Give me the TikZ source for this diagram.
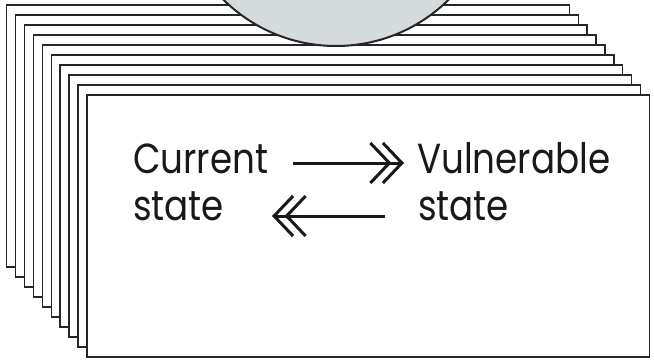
\documentclass[tikz,border=0pt]{standalone}
\usepackage{fontspec}
\setmainfont{Poppins}[FakeStretch=0.85]
\usetikzlibrary{arrows.meta}
\definecolor{discgray}{HTML}{D5DBDC}
\tikzset{
  card/.style={draw=black!85, line width=1.4pt, fill=white},
  disc/.style={draw=black!85, line width=2pt, fill=discgray},
  label/.style={anchor=base west, inner sep=0pt, font=\fontsize{42}{42}\selectfont, text=black!90},
  chev/.tip={Straight Barb[length=19pt, width=40pt, line width=3pt]},
  dblarrow/.style={line width=3pt, draw=black!90, -{chev[sep=-10pt] chev}}
}
\begin{document}
\begin{tikzpicture}[x=1pt, y=-1pt]
\useasboundingbox (0,0) rectangle (654,361);
% stack of ten cards, back to front
\foreach \i in {0,...,9}{
  \draw[card] ({6.7+8.9*\i},{5+10*\i}) rectangle ++(562.6,262);
}
% disc peeking over the stack
\begin{scope}
\clip (0,0) rectangle (654,361);
\draw[disc] (336,-114) circle (160);
\end{scope}
% labels on the front card
\node[label] (cur)  at (133,173) {Current};
\node[label] (curs) at (133,220) {state};
\node[label] (vul)  at (417,173) {Vulnerable};
\node[label] (vuls) at (418,220) {state};
% transitions between the two states
\coordinate (fwdA) at (293,163);
\coordinate (fwdB) at (404,163);
\coordinate (bckA) at (385,216);
\coordinate (bckB) at (272,216);
\draw[dblarrow] (fwdA) -- (fwdB);
\draw[dblarrow] (bckA) -- (bckB);
\end{tikzpicture}
\end{document}
